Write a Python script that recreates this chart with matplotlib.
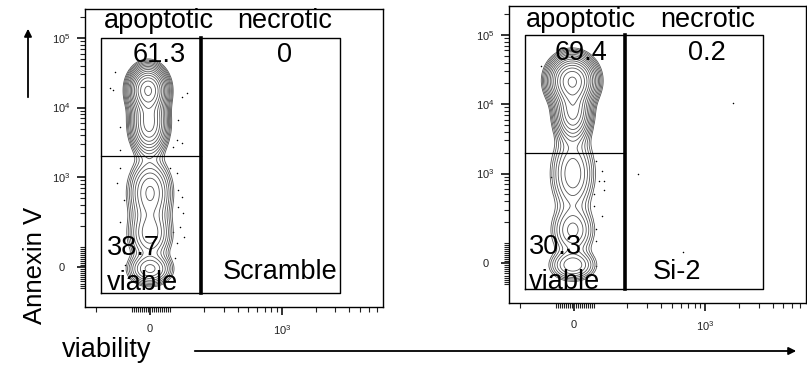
import numpy as np
import matplotlib.pyplot as plt
from matplotlib.scale import SymmetricalLogTransform
from matplotlib.patches import FancyArrowPatch

plt.rcParams['font.family'] = ['Liberation Sans', 'DejaVu Sans']
plt.rcParams['mathtext.fontset'] = 'custom'
plt.rcParams['mathtext.rm'] = 'Liberation Sans'
plt.rcParams['mathtext.it'] = 'Liberation Sans'

# biexponential-like display: symlog with a linear band around zero
LIN = 100
X_LINSCALE = 0.162
Y_LINSCALE = 0.2655
x_lim = (-252, 7980)
y_lim = (-190, 262144)

samples = ['Scramble', 'Si-2']
pct_apoptotic = ['61.3', '69.4']
pct_necrotic = ['0', '0.2']
pct_viable = ['38.7', '30.3']

# quadrant gates (data units)
gate_x = [-180, 190, 3300]
gate_y = [-120, 2000, 100000]

# population shape: centres (data units),
# spreads (decades on the display scale) and relative weights
scr_xc = [-10, -5, 0, 0, 0]
scr_yc = [18000, 6000, 600, 150, -10]
scr_sx = [0.08, 0.08, 0.1, 0.1, 0.1]
scr_sy = [0.16, 0.22, 0.25, 0.2, 0.12]
scr_w = [1.0, 0.5, 0.2, 0.17, 0.2]

si2_xc = [-8, -5, -5, -5, -5]
si2_yc = [22000, 8000, 1000, 150, -10]
si2_sx = [0.1, 0.08, 0.105, 0.105, 0.11]
si2_sy = [0.17, 0.22, 0.3, 0.2, 0.12]
si2_w = [1.0, 0.5, 0.14, 0.12, 0.14]

# outlier events
scr_dots_x = [-136, -142, 142, 128, 118, -123, 114, 128, 105, -123, 100, -123, 114,
              -130, 118, 128, -114, 118, 130, -123, 122, 105, 133, 114, -114, 110,
              -111, -151]
scr_dots_y = [32400, 17900, 16200, 14200, 6600, 5240, 3400, 3080, 2700, 2440, 1350,
              1350, 1140, 820, 650, 515, 465, 370, 303, 225, 190, 160, 137, 112, 68,
              44, 10, 19000]
si2_dots_x = [104, 118, 111, 122, 100, 122, 100, 118, 104, 104, 105, -106, -131,
              1780, 247, 636]
si2_dots_y = [1540, 1100, 790, 790, 515, 570, 335, 240, 160, 108, -15, 905, 35800,
              10500, 1000, 54]

tx = SymmetricalLogTransform(10, LIN, X_LINSCALE)
ty = SymmetricalLogTransform(10, LIN, Y_LINSCALE)


def density(xc, yc, sx, sy, w):
    gx = np.linspace(-0.6, 2.0, 320)
    gy = np.linspace(-0.6, 3.75, 520)
    GX, GY = np.meshgrid(gx, gy)
    cx = tx.transform(np.asarray(xc, float)) / LIN
    cy = ty.transform(np.asarray(yc, float)) / LIN
    Z = np.zeros_like(GX)
    for i in range(len(w)):
        Z += w[i] * np.exp(-0.5 * ((GX - cx[i]) / sx[i]) ** 2
                           - 0.5 * ((GY - cy[i]) / sy[i]) ** 2)
    X = tx.inverted().transform(GX.ravel() * LIN).reshape(GX.shape)
    Y = ty.inverted().transform(GY.ravel() * LIN).reshape(GY.shape)
    return X, Y, Z


fig = plt.figure(figsize=(8.07, 3.68), dpi=100)
W, H = 807, 368
boxes = [(85, 9, 298, 298), (509, 6, 297, 297)]
pops = [(scr_xc, scr_yc, scr_sx, scr_sy, scr_w),
        (si2_xc, si2_yc, si2_sx, si2_sy, si2_w)]
dots = [(scr_dots_x, scr_dots_y), (si2_dots_x, si2_dots_y)]

x_minor = ([-200] + [-v for v in range(10, 100, 10)]
           + list(range(10, 100, 10)) + list(range(100, 1000, 100))
           + list(range(2000, 8000, 1000)))
y_minor = ([-100] + [-v for v in range(10, 100, 10)] + list(range(10, 100, 10))
           + list(range(100, 1000, 100)) + list(range(2000, 10000, 1000))
           + list(range(20000, 100000, 10000)) + [200000])

for i, (l, t, w, h) in enumerate(boxes):
    ax = fig.add_axes([l / W, 1 - (t + h) / H, w / W, h / H])
    ax.set_xscale('symlog', linthresh=LIN, linscale=X_LINSCALE)
    ax.set_yscale('symlog', linthresh=LIN, linscale=Y_LINSCALE)

    X, Y, Z = density(*pops[i])
    levels = np.geomspace(Z.max() * 0.02, Z.max() * 0.93, 15)
    ax.contour(X, Y, Z, levels=levels, colors='#555555', linewidths=0.6)
    ax.scatter(dots[i][0], dots[i][1], s=1.2, c='k', linewidths=0)

    g0, g1, g2 = gate_x
    h0, h1, h2 = gate_y
    ax.plot([g0, g2, g2, g0, g0], [h0, h0, h2, h2, h0], color='k', lw=1.0)
    ax.plot([g1, g1], [h0, h2], color='k', lw=2.6)
    ax.plot([g0, g1], [h1, h1], color='k', lw=0.9)

    ax.set_xlim(x_lim)
    ax.set_ylim(y_lim)
    ax.set_xticks([0, 1000], ['0', r'$10^3$'])
    ax.set_yticks([0, 1e3, 1e4, 1e5], ['0', r'$10^3$', r'$10^4$', r'$10^5$'])
    ax.set_xticks(x_minor, minor=True)
    ax.set_yticks(y_minor, minor=True)
    ax.xaxis.set_minor_formatter(plt.NullFormatter())
    ax.yaxis.set_minor_formatter(plt.NullFormatter())
    ax.tick_params(which='major', length=6, width=1.3, labelsize=8,
                   colors='#222222')
    ax.tick_params(axis='x', which='major', pad=6)
    ax.tick_params(axis='y', which='major', pad=11)
    for lab in ax.get_yticklabels():
        lab.set_ha('center')
    ax.tick_params(which='minor', length=3.5, width=0.8, color='#222222')
    for s in ax.spines.values():
        s.set_linewidth(1.0)

    fs = 19.5
    xa = [0.248, 0.242][i]
    ax.text(xa, [0.96, 0.953][i], 'apoptotic', transform=ax.transAxes,
            ha='center', va='center', fontsize=fs)
    ax.text([0.671, 0.67][i], [0.96, 0.953][i], 'necrotic', transform=ax.transAxes,
            ha='center', va='center', fontsize=fs)
    ax.text(xa, [0.846, 0.842][i], pct_apoptotic[i], transform=ax.transAxes,
            ha='center', va='center', fontsize=fs)
    ax.text([0.671, 0.667][i], [0.846, 0.842][i], pct_necrotic[i],
            transform=ax.transAxes, ha='center', va='center', fontsize=fs)
    ax.text([0.074, 0.067][i], [0.198, 0.189][i], pct_viable[i],
            transform=ax.transAxes, ha='left', va='center', fontsize=fs)
    ax.text([0.074, 0.067][i], [0.081, 0.071][i], 'viable',
            transform=ax.transAxes, ha='left', va='center', fontsize=fs)
    ax.text([0.463, 0.485][i], [0.117, 0.104][i], samples[i],
            transform=ax.transAxes, ha='left', va='center', fontsize=fs)

fig.text(35 / W, 1 - 265 / H, 'Annexin V', rotation=90, ha='center', va='center',
         fontsize=18.5)
fig.text(107 / W, 1 - 350 / H, 'viability', ha='center', va='center', fontsize=19.5)
fig.add_artist(FancyArrowPatch((28 / W, 1 - 100 / H), (28 / W, 1 - 26 / H),
                               transform=fig.transFigure, arrowstyle='-|>',
                               mutation_scale=11, lw=1.3, color='k'))
fig.add_artist(FancyArrowPatch((192 / W, 1 - 351 / H), (799 / W, 1 - 351 / H),
                               transform=fig.transFigure, arrowstyle='-|>',
                               mutation_scale=11, lw=1.3, color='k'))

fig.savefig('out.png', dpi=100)
